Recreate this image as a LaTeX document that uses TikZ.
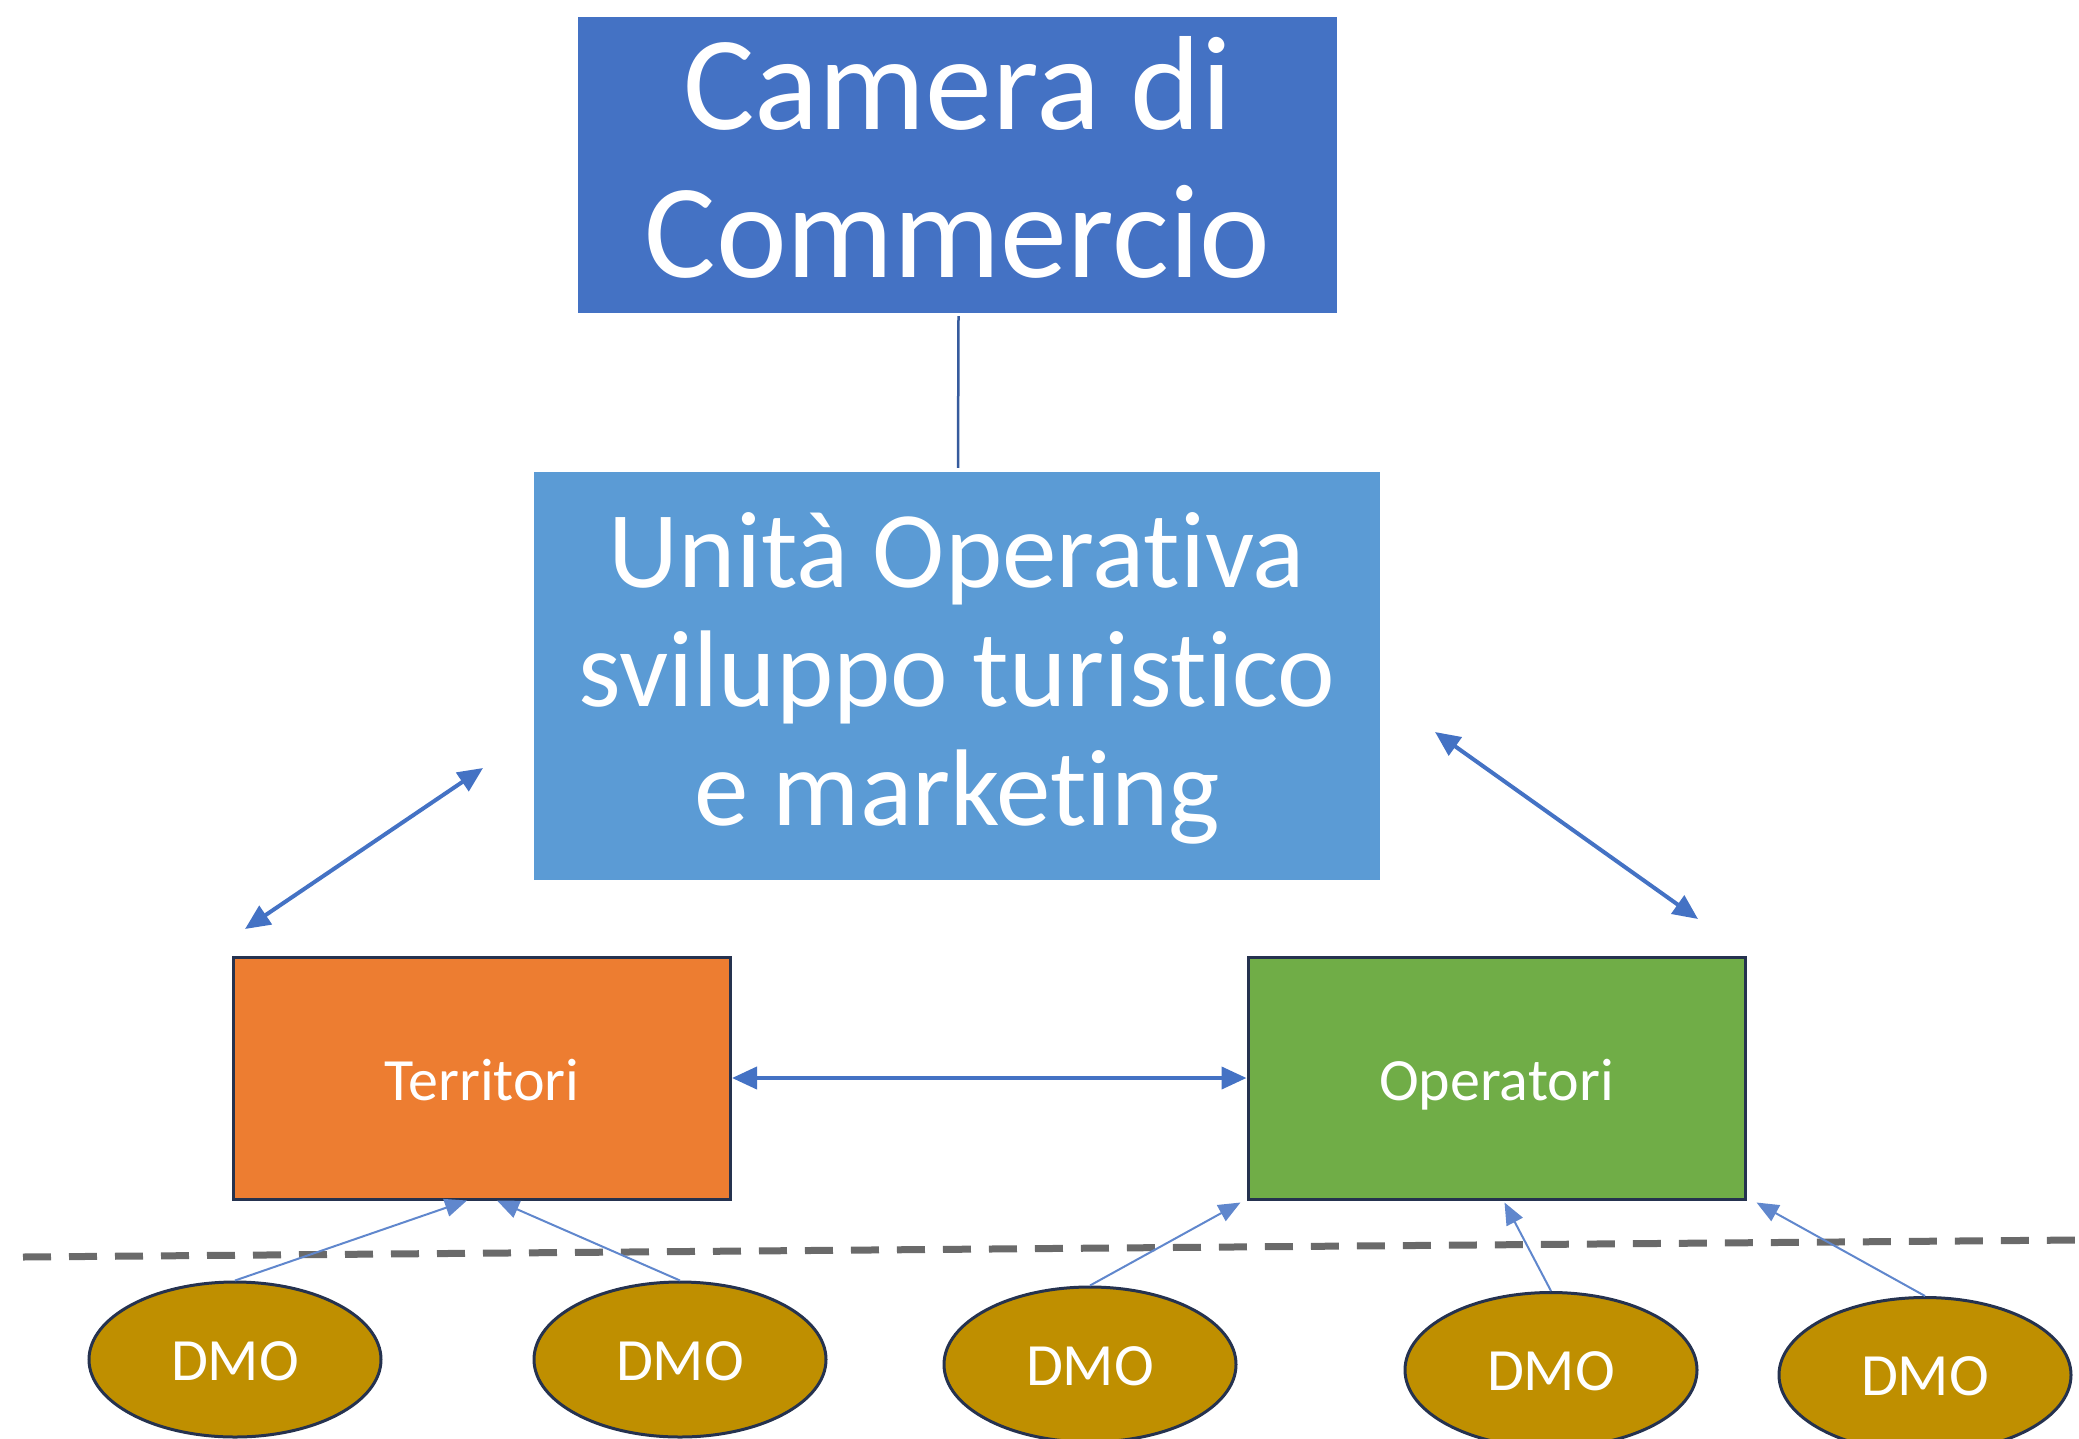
\documentclass[tikz,border=0pt]{standalone}
\usepackage{fontspec}
\setmainfont{Carlito}[Ligatures=NoCommon,RawFeature={-liga;-dlig;-clig}]
\usetikzlibrary{arrows.meta,calc,shapes.geometric}
\definecolor{camblue}{HTML}{4472C4}
\definecolor{unitblue}{HTML}{5B9BD5}
\definecolor{terrorange}{HTML}{ED7D31}
\definecolor{opgreen}{HTML}{70AD47}
\definecolor{dmogold}{HTML}{BF8F00}
\definecolor{navyline}{HTML}{25324F}
\definecolor{arrowblue}{HTML}{4472C4}
\definecolor{dashgray}{HTML}{6A6A6A}
\begin{document}
\begin{tikzpicture}[x=1pt,y=-1pt,
  box/.style={rectangle, inner sep=0pt, text=white, align=center},
  midbox/.style={box, draw=navyline, line width=3pt, minimum width=497pt, minimum height=242pt,
    font=\fontsize{60}{66}\selectfont, text height=44pt, text depth=0pt},
  biglink/.style={draw=arrowblue, line width=4pt,
    {Triangle[length=25pt,width=22pt]}-{Triangle[length=25pt,width=22pt]}},
  dmolink/.style={draw=arrowblue!85, line width=2pt, -{Triangle[length=22pt,width=18pt]}},
  dmo/.style={ellipse, draw=navyline, line width=3pt, fill=dmogold, minimum width=292pt,
    minimum height=155pt, inner sep=0pt, text=white, font=\fontsize{60}{66}\selectfont,
    text height=41pt, text depth=0pt}]
\useasboundingbox (0,0) rectangle (2079,1439);

% top boxes
\node[box, fill=camblue, minimum width=759pt, minimum height=296pt,
  font=\fontsize{134}{147}\selectfont, text height=234pt, text depth=10pt]
  (camera) at (957.5,165) {Camera di\\Commercio};
\node[box, fill=unitblue, minimum width=846pt, minimum height=408pt,
  font=\fontsize{109}{119}\selectfont, text height=318pt, text depth=20pt]
  (unita) at (957,676) {Unità Operativa\\sviluppo turistico\\e marketing};
\draw[draw=camblue!80!black, line width=2.5pt] ($(camera.south)+(1,3)$) -- ($(unita.north)+(1,-4)$);

% middle boxes
\node[midbox, fill=terrorange] (terr) at (482,1078) {Territori};
\node[midbox, fill=opgreen] (oper) at (1496.5,1078) {Operatori};

% free ends of the diagonal arrows
\coordinate (la) at (245,929);
\coordinate (lb) at (483,768);
\coordinate (ra) at (1435,732);
\coordinate (rb) at (1698,919);
\draw[biglink] (la) -- (lb);
\draw[biglink] (ra) -- (rb);
\draw[biglink] (terr.east) -- (oper.west);

% dashed separator
\coordinate (dl) at (23,1257);
\coordinate (dr) at (2079,1240);
\draw[dashgray, line width=7pt, dash pattern=on 28pt off 18pt] (dl) -- (dr);

% DMO ellipses
\node[dmo] (d1) at (235,1359.5) {DMO};
\node[dmo] (d2) at (680,1359.5) {DMO};
\node[dmo] (d3) at (1090,1364.5) {DMO};
\node[dmo] (d4) at (1551,1370) {DMO};
\node[dmo] (d5) at (1925,1375) {DMO};

% DMO links
\draw[dmolink] (d1.north) -- ($(terr.south)+(-15,0)$);
\draw[dmolink] (d2.north) -- ($(terr.south)+(15,0)$);
\draw[dmolink] (d3.north) -- ($(oper.south west)+(-6,2)$);
\draw[dmolink] (d4.north) -- ($(oper.south)+(8,2)$);
\draw[dmolink] (d5.north) -- ($(oper.south east)+(10,2)$);
\end{tikzpicture}
\end{document}
